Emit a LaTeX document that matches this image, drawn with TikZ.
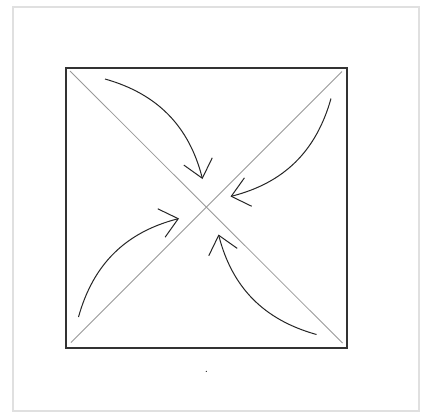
\documentclass[tikz,border=0pt]{standalone}
\usetikzlibrary{arrows.meta}
\begin{document}
\begin{tikzpicture}[x=0.75pt,y=-0.75pt,
  frame/.style={draw=black!12,line width=1.5pt},
  box/.style={draw=black!80,line width=1.5pt},
  diag/.style={draw=black!40,line width=0.6pt},
  swirl/.style={draw=black!85,line width=0.75pt,
    -{Straight Barb[length=13pt,width=22pt,line width=0.75pt]},bend left=30}]
\useasboundingbox (0,0) rectangle (425,412);
\fill[white] (0,0) rectangle (425,412);
\draw[frame] (13,6.5) rectangle (418.5,411);
% square
\coordinate (tl) at (66,67.5);
\coordinate (br) at (347,348);
\draw[box] (tl) rectangle (br);
% diagonals
\coordinate (d1a) at (70,71);
\coordinate (d1b) at (342.5,343);
\coordinate (d2a) at (342,71.5);
\coordinate (d2b) at (71,342.5);
\draw[diag] (d1a) -- (d1b);
\draw[diag] (d2a) -- (d2b);
% arrows
\coordinate (s1) at (105,79);   \coordinate (e1) at (202.5,179);
\coordinate (s2) at (331,98.5); \coordinate (e2) at (230.5,196.5);
\coordinate (s3) at (78.5,317); \coordinate (e3) at (179,218.5);
\coordinate (s4) at (316.5,334.5); \coordinate (e4) at (218.5,234.5);
\draw[swirl] (s1) to (e1);
\draw[swirl] (s2) to (e2);
\draw[swirl] (s3) to (e3);
\draw[swirl] (s4) to (e4);
% small mark
\node[font=\footnotesize,inner sep=0pt] (mark) at (206.5,372) {.};
\end{tikzpicture}
\end{document}
